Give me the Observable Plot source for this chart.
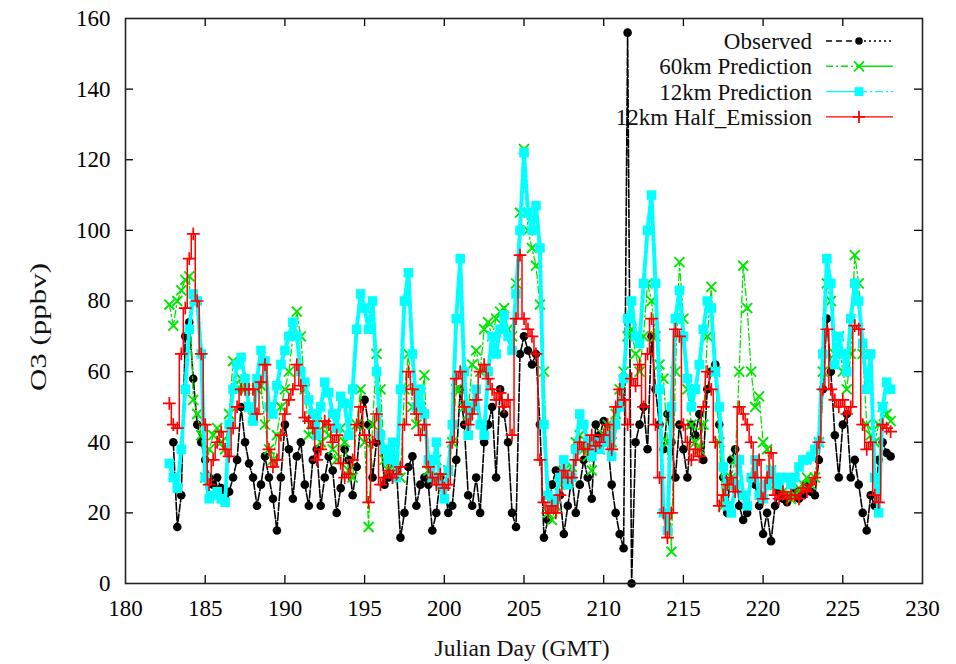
<!DOCTYPE html>
<html>
<head>
<meta charset="utf-8">
<script src="https://cdn.jsdelivr.net/npm/d3@7"></script>
<script src="https://cdn.jsdelivr.net/npm/@observablehq/plot@0.6"></script>
<style>
  html, body { margin: 0; padding: 0; background: white; }
  #chart { position: relative; width: 956px; height: 664px; }
  #chart svg, #chart svg text { font-family: "Liberation Serif", "Times New Roman", Times, serif !important; }
</style>
</head>
<body>
<div id="chart"></div>
<script>
// ---- Data (6-hourly samples starting day 182.75) ----
const startDay = 182.75;
const stepDay = 0.25;

const seriesNames = ["Observed", "60km Prediction", "12km Prediction", "12km Half_Emission"];

const observed = [
  null,
  40, 16, 25, 70,   74, 58, 45, 40,   35, 30, 28, 30,   27, 25, 26, 30,   35, 50, 40, 34,
  30, 22, 28, 36,   30, 24, 15, 30,   45, 38, 24, 36,   40, 28, 22, 35,   38, 22, 30, 36,
  32, 20, 27, 38,   35, 25, 33, 45,   52, 45, 30, 40,   42, 28, 30, 35,   32, 13, 20, 33,
  36, 22, 28, 30,   28, 15, 20, 30,   28, 20, 22, 35,   55, 45, 25, 22,   30, 20, 40, 45,
  50, 30, 55, 48,   40, 20, 16, 65,   70, 66, 62, 65,   45, 13, 18, 28,   32, 25, 14, 22,
  30, 20, 28, 35,   30, 24, 45, 42,   46, 40, 28, 20,   14, 10, 156, 0,  40, 45, 50, 38,
  70, 55, 45, 38,   48, 40, 30, 45,   38, 30, 45, 42,   48, 35, 55, 60,   62, 45, 30, 20,
  35, 38, 22, 18,   20, 30, 28, 22,   14, 20, 12, 22,   26, 24, 23, 25,   26, 24, 25, 28,
  26, 25, 35, 55,   75, 60, 42, 30,   45, 48, 30, 35,   28, 20, 15, 25,   22, 35, 40, 37,
  36
];

const pred60km = [
  79,
  73, 80, 83, 86,   87, 52, 48, 42,   30, 38, 42, 44,   40, 38, 48, 63,   55, 58, 55, 50,
  47, 55, 56, 45,   38, 35, 42, 50,   55, 60, 70, 77,   70, 55, 42, 45,   48, 40, 45, 42,
  38, 35, 44, 40,   32, 30, 45, 55,   40, 16, 45, 65,   55, 35, 32, 35,   33, 30, 55, 65,
  50, 45, 50, 59,   32, 30, 35, 30,   28, 32, 40, 55,   55, 50, 48, 62,   66, 60, 72, 74,
  70, 75, 77, 78,   72, 70, 85, 105,  123, 100, 95, 90, 79, 60, 20, 18,   22, 28, 32, 30,
  33, 40, 42, 38,   36, 32, 40, 38,   42, 45, 40, 48,   55, 60, 70, 72,   65, 60, 70, 85,
  80, 70, 62, 58,   40, 9, 60, 91,    75, 55, 45, 40,   38, 45, 70, 84,   60, 40, 22, 28,
  30, 35, 60, 90,   78, 60, 50, 53,   40, 38, 32, 28,   28, 26, 25, 24,   25, 27, 28, 30,
  28, 30, 40, 60,   85, 80, 65, 70,   60, 55, 65, 93,   85, 65, 45, 42,   40, 45, 50, 48,
  46
];

const pred12km = [
  34,
  30, 27, 38, 55,   72, 82, 80, 65,   30, 24, 25, 26,   24, 23, 45, 55,   62, 64, 58, 50,
  46, 58, 66, 63,   50, 48, 56, 62,   66, 70, 74, 70,   60, 57, 52, 48,   42, 50, 57, 54,
  48, 44, 53, 51,   42, 55, 72, 82,   78, 72, 80, 60,   42, 38, 35, 40,   30, 55, 80, 88,
  65, 50, 55, 48,   35, 30, 40, 28,   24, 32, 45, 75,   92, 60, 42, 50,   55, 45, 42, 60,
  70, 65, 72, 76,   70, 66, 82, 100,  122, 105, 100, 107, 95, 45, 25, 22, 24, 30, 35, 28,
  30, 38, 48, 45,   40, 36, 40, 38,   40, 42, 36, 45,   50, 58, 75, 80,   70, 68, 85, 100,
  110, 85, 55, 20,  15, 50, 75, 83,   70, 58, 50, 55,   62, 72, 80, 78,   60, 50, 33, 22,
  20, 28, 35, 25,   22, 30, 35, 25,   24, 28, 32, 30,   28, 30, 30, 28,   30, 33, 35, 35,
  36, 38, 40, 65,   92, 85, 62, 70,   65, 60, 75, 85,   80, 68, 55, 65,   30, 20, 50, 57,
  55
];

const halfEmission12km = [
  51,
  45, 44, 65, 78,   92, 99, 80, 65,   45, 28, 35, 40,   43, 38, 36, 44,   50, 55, 55, 55,
  55, 48, 57, 62,   38, 33, 35, 42,   48, 52, 55, 62,   56, 47, 46, 44,   35, 38, 46, 45,
  40, 42, 34, 30,   31, 35, 45, 50,   42, 23, 40, 48,   28, 30, 32, 30,   31, 33, 45, 60,
  55, 48, 42, 45,   33, 30, 28, 31,   27, 28, 40, 58,   60, 50, 45, 48,   52, 60, 62, 58,
  55, 52, 54, 50,   52, 42, 75, 93,   75, 72, 70, 65,   35, 23, 20, 22,   20, 25, 32, 30,
  30, 35, 40, 38,   38, 42, 39, 40,   42, 45, 38, 50,   55, 52, 45, 58,   56, 62, 50, 65,
  75, 45, 30, 20,   13, 20, 72, 70,   45, 40, 35, 38,   36, 50, 60, 55,   40, 22, 25, 28,
  30, 26, 50, 48,   45, 40, 30, 35,   24, 30, 37, 25,   24, 26, 24, 25,   25, 24, 27, 26,
  28, 30, 40, 55,   72, 55, 52, 50,   52, 48, 50, 73,   72, 45, 38, 40,   25, 23, 45, 44,
  43
];

const xTickValues = [180, 185, 190, 195, 200, 205, 210, 215, 220, 225, 230];
const yTickValues = [0, 20, 40, 60, 80, 100, 120, 140, 160];

const colors = { obs: "#000000", g60: "#00e600", c12: "#00ffff", r12: "#ff0000" };

// ---- Build rows ----
const rows = (vals) => vals.map((v, i) => ({ day: startDay + i * stepDay, v }));
const obsRows = rows(observed);
const g60Rows = rows(pred60km);
const c12Rows = rows(pred12km);
const r12Rows = rows(halfEmission12km);
const valid = (r) => r.v != null;

const innerTicksX = xTickValues.slice(1, -1);
const innerTicksY = yTickValues.slice(1, -1);

const chart = Plot.plot({
  width: 956,
  height: 664,
  marginLeft: 125,
  marginRight: 34,
  marginTop: 18,
  marginBottom: 81,
  x: { domain: [180, 230] },
  y: { domain: [0, 160] },
  style: {
    fontFamily: "Liberation Serif",
    fontSize: "23px",
    background: "white",
    color: "black",
    overflow: "visible"
  },
  marks: [
    // Observed
    Plot.line(obsRows, { x: "day", y: "v", stroke: colors.obs, strokeWidth: 1.6, strokeDasharray: "8,2" }),
    Plot.dot(obsRows.filter(valid), { x: "day", y: "v", r: 4.3, fill: colors.obs, stroke: "none", symbol: "circle" }),
    // 60 km
    Plot.line(g60Rows, { x: "day", y: "v", stroke: colors.g60, strokeWidth: 1.3, strokeDasharray: "7,3,2,3" }),
    Plot.dot(g60Rows, { x: "day", y: "v", r: 4.6, stroke: colors.g60, strokeWidth: 1.9, symbol: "times" }),
    // 12 km
    Plot.line(c12Rows, { x: "day", y: "v", stroke: colors.c12, strokeWidth: 4, strokeDasharray: "10,2,3,2" }),
    Plot.dot(c12Rows, { x: "day", y: "v", r: 5.4, fill: colors.c12, stroke: "none", symbol: "square" }),
    // 12 km half emission
    Plot.line(r12Rows, { x: "day", y: "v", stroke: colors.r12, strokeWidth: 1.5, curve: "step" }),
    Plot.dot(r12Rows, { x: "day", y: "v", r: 4.2, stroke: colors.r12, strokeWidth: 1.7, symbol: "plus" }),
    // Inward ticks on all four sides
    Plot.ruleX(innerTicksX, { x: (d) => d, y1: 0, y2: 2.3, stroke: "black", strokeWidth: 1.3 }),
    Plot.ruleX(innerTicksX, { x: (d) => d, y1: 157.7, y2: 160, stroke: "black", strokeWidth: 1.3 }),
    Plot.ruleY(innerTicksY, { y: (d) => d, x1: 180, x2: 180.5, stroke: "black", strokeWidth: 1.3 }),
    Plot.ruleY(innerTicksY, { y: (d) => d, x1: 229.5, x2: 230, stroke: "black", strokeWidth: 1.3 }),
    Plot.frame({ stroke: "#222", strokeWidth: 1.6 }),
    Plot.axisX({ ticks: xTickValues, tickSize: 0, tickPadding: 16, label: null, tickFormat: (d) => String(d) }),
    Plot.axisY({ ticks: yTickValues, tickSize: 0, tickPadding: 15, label: null, tickFormat: (d) => String(d) })
  ]
});

document.getElementById("chart").appendChild(chart);

// ---- Axis titles and legend (text overlays inside the SVG) ----
const svg = d3.select(chart);
const font = "Liberation Serif";

svg.append("text")
  .attr("transform", "translate(38,327) rotate(-90)")
  .attr("text-anchor", "middle")
  .attr("dy", "0.35em")
  .attr("font-family", font)
  .attr("font-size", 23)
  .attr("textLength", 128)
  .attr("lengthAdjust", "spacingAndGlyphs")
  .attr("fill", "#111")
  .text("O3 (ppbv)");

svg.append("text")
  .attr("x", 522)
  .attr("y", 648)
  .attr("text-anchor", "middle")
  .attr("dy", "0.35em")
  .attr("font-family", font)
  .attr("font-size", 23)
  .attr("textLength", 175)
  .attr("lengthAdjust", "spacingAndGlyphs")
  .attr("fill", "#111")
  .text("Julian Day (GMT)");

const legendItems = [
  { name: seriesNames[0], color: colors.obs, left: "6,4", right: "2,3", symbol: d3.symbolCircle, size: Math.PI * 3.8 * 3.8, filled: true },
  { name: seriesNames[1], color: colors.g60, left: "7,3,2,3", right: null, symbol: d3.symbolTimes, size: Math.PI * 4.6 * 4.6, filled: false },
  { name: seriesNames[2], color: colors.c12, left: null, right: "8,3,2,3", symbol: d3.symbolSquare, size: Math.PI * 5 * 5, filled: true },
  { name: seriesNames[3], color: colors.r12, left: null, right: null, symbol: d3.symbolPlus, size: Math.PI * 4 * 4, filled: false }
];

const lg = svg.append("g").attr("font-family", font).attr("font-size", 23);
legendItems.forEach((it, i) => {
  const y = 41 + i * 25.3;
  lg.append("text")
    .attr("x", 812).attr("y", y).attr("dy", "0.35em")
    .attr("text-anchor", "end").attr("fill", "#111")
    .text(it.name);
  lg.append("line")
    .attr("x1", 826).attr("x2", 859).attr("y1", y).attr("y2", y)
    .attr("stroke", it.color).attr("stroke-width", 1.4)
    .attr("stroke-dasharray", it.left);
  lg.append("line")
    .attr("x1", 859).attr("x2", 893).attr("y1", y).attr("y2", y)
    .attr("stroke", it.color).attr("stroke-width", 1.4)
    .attr("stroke-dasharray", it.right);
  lg.append("path")
    .attr("transform", `translate(859,${y})`)
    .attr("d", d3.symbol(it.symbol, it.size)())
    .attr("fill", it.filled ? it.color : "none")
    .attr("stroke", it.filled ? "none" : it.color)
    .attr("stroke-width", 1.8);
});
</script>
</body>
</html>
